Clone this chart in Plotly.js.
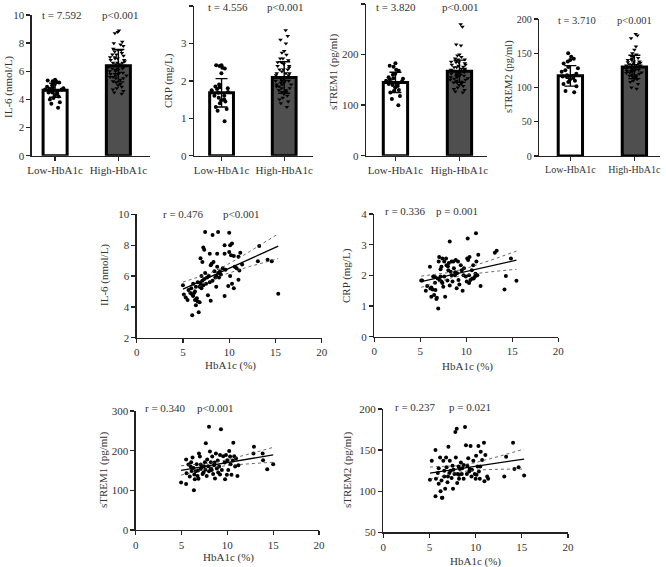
<!DOCTYPE html>
<html>
<head>
<meta charset="utf-8">
<script src="https://cdn.plot.ly/plotly-3.0.1.min.js"></script>
<style>
  html, body { margin: 0; padding: 0; background: #fff; }
  #chart { width: 666px; height: 567px; }
</style>
</head>
<body>
<div id="chart"></div>
<script>
// groups for the bar panels
const groups = ['Low-HbA1c', 'High-HbA1c'];

// bar heights (mean) and SD
const il6Mean = [4.65, 6.4];
const il6Sd = [0.5, 1.15];
const crpMean = [1.68, 2.09];
const crpSd = [0.38, 0.42];
const strem1Mean = [145, 167];
const strem1Sd = [20, 22];
const strem2Mean = [117, 130];
const strem2Sd = [15, 17];

// individual values in each group
const il6Low = [5.4, 5.35, 5.3, 5.3, 5.2, 5.1, 5.0, 4.9, 4.85, 4.8, 4.75, 4.7, 4.7, 4.6, 4.6, 4.5, 4.5, 4.4, 4.3, 4.2, 4.1, 4.0, 3.8, 3.7, 3.4];
const il6High = [8.9, 8.8, 8.7, 8.1, 8.0, 7.9, 7.8, 7.6, 7.5, 7.5, 7.4, 7.3, 7.2, 7.1, 7.0, 7.0, 6.9, 6.8, 6.8, 6.7, 6.6, 6.6, 6.5, 6.5, 6.4, 6.4, 6.3, 6.3, 6.2, 6.2, 6.1, 6.1, 6.0, 6.0, 5.9, 5.9, 5.8, 5.8, 5.7, 5.7, 5.6, 5.6, 5.5, 5.5, 5.4, 5.3, 5.2, 5.1, 5.0, 4.9, 4.8, 4.7, 4.6, 4.5, 4.4, 6.9, 7.2, 6.2, 5.8, 6.6];
const crpLow = [2.42, 2.42, 2.4, 2.35, 2.33, 2.2, 1.85, 1.83, 1.8, 1.78, 1.75, 1.7, 1.68, 1.6, 1.55, 1.5, 1.48, 1.45, 1.4, 1.3, 1.25, 1.2, 0.92, 1.9, 1.6];
const crpHigh = [3.35, 3.2, 3.1, 3.0, 2.8, 2.75, 2.7, 2.6, 2.55, 2.5, 2.5, 2.45, 2.4, 2.35, 2.3, 2.3, 2.25, 2.2, 2.2, 2.15, 2.1, 2.1, 2.05, 2.0, 2.0, 1.95, 1.9, 1.9, 1.85, 1.8, 1.8, 1.75, 1.7, 1.65, 1.6, 1.55, 1.5, 1.45, 1.4, 1.3, 2.1, 2.0, 1.9, 2.2, 2.4, 1.7, 2.6, 1.85, 2.0, 2.15, 1.95, 2.05, 2.3, 1.75, 2.5];
const strem1Low = [183, 178, 176, 170, 168, 162, 155, 152, 150, 148, 147, 145, 143, 140, 138, 135, 130, 128, 125, 118, 112, 100, 160, 153, 142];
const strem1High = [260, 255, 220, 218, 200, 198, 195, 192, 190, 188, 186, 185, 183, 180, 178, 176, 175, 172, 170, 168, 168, 165, 163, 162, 160, 158, 157, 155, 153, 152, 150, 148, 146, 145, 143, 140, 138, 135, 132, 130, 127, 125, 170, 175, 165, 160, 155, 180, 185, 150, 162, 172, 158, 145, 190];
const strem2Low = [150, 145, 142, 140, 138, 125, 123, 120, 118, 117, 115, 114, 112, 110, 108, 105, 102, 95, 93, 130, 135, 116, 128];
const strem2High = [178, 176, 172, 160, 155, 150, 148, 146, 145, 143, 142, 140, 138, 137, 136, 135, 134, 133, 132, 131, 130, 130, 129, 128, 127, 126, 125, 124, 123, 122, 121, 120, 119, 118, 117, 116, 115, 113, 112, 110, 108, 105, 100, 98, 132, 128, 126, 124, 135, 138, 140, 122, 127, 130, 133];

const tLabels = ['t = 7.592', 't = 4.556', 't = 3.820', 't = 3.710'];

// correlation data: HbA1c (%) vs marker
const il6X = [5.0, 5.1, 5.3, 5.5, 5.6, 5.8, 5.9, 6.0, 6.0, 6.1, 6.1, 6.2, 6.3, 6.3, 6.4, 6.4, 6.5, 6.6, 6.6, 6.7, 6.8, 6.8, 6.9, 6.9, 7.0, 7.0, 7.1, 7.1, 7.2, 7.2, 7.3, 7.3, 7.4, 7.4, 7.5, 7.6, 7.7, 7.8, 7.9, 7.9, 8.0, 8.0, 8.1, 8.2, 8.2, 8.3, 8.4, 8.5, 8.6, 8.6, 8.7, 8.7, 8.8, 8.8, 8.9, 9.0, 9.1, 9.3, 9.5, 9.5, 9.5, 9.6, 9.9, 10.0, 10.0, 10.1, 10.1, 10.2, 10.3, 10.3, 10.5, 10.5, 10.6, 10.8, 11.0, 11.0, 11.1, 11.2, 11.4, 13.1, 13.25, 14.15, 14.6, 15.3];
const il6Y = [5.4, 4.8, 4.6, 4.45, 5.1, 4.9, 5.2, 3.45, 4.8, 5.5, 4.7, 4.9, 5.0, 4.45, 4.1, 5.3, 4.55, 4.35, 5.6, 3.65, 4.3, 5.3, 5.5, 7.15, 6.0, 5.2, 6.9, 5.7, 7.85, 5.4, 7.7, 5.8, 8.85, 6.2, 5.5, 5.9, 4.75, 6.0, 7.45, 5.6, 4.4, 6.7, 6.8, 8.65, 5.7, 6.9, 6.3, 5.9, 5.3, 6.0, 6.6, 7.45, 8.85, 6.2, 5.9, 6.3, 6.1, 6.5, 4.7, 7.45, 8.0, 6.4, 5.35, 8.8, 7.55, 6.0, 8.0, 7.35, 8.1, 5.5, 5.2, 7.3, 6.6, 6.5, 5.75, 7.25, 6.35, 7.5, 6.75, 6.95, 7.95, 7.05, 6.95, 4.85];

const crpX = [5.1, 5.2, 5.6, 5.75, 6.05, 6.1, 6.2, 6.35, 6.4, 6.5, 6.6, 6.65, 6.75, 6.8, 6.95, 7.0, 7.05, 7.1, 7.2, 7.3, 7.3, 7.4, 7.5, 7.6, 7.7, 7.8, 7.85, 7.95, 8.05, 8.1, 8.2, 8.2, 8.3, 8.4, 8.5, 8.6, 8.65, 8.75, 8.85, 8.95, 9.0, 9.15, 9.25, 9.4, 9.5, 9.6, 9.75, 9.95, 10.05, 10.15, 10.2, 10.3, 10.35, 10.45, 10.6, 10.65, 10.75, 10.95, 11.05, 11.1, 11.2, 11.3, 11.55, 13.1, 13.3, 14.15, 14.3, 14.85, 15.45, 6.2, 6.9, 7.6, 8.0, 8.8, 9.1, 10.1, 10.3, 11.0, 7.2, 6.6, 8.4, 9.7, 10.8, 7.4];
const crpY = [1.83, 1.83, 1.5, 1.65, 2.28, 1.57, 1.3, 1.54, 1.96, 1.36, 1.76, 1.52, 1.23, 1.27, 0.92, 2.45, 2.6, 1.85, 1.96, 2.28, 1.8, 2.55, 1.63, 1.96, 1.3, 2.55, 2.33, 1.83, 2.17, 2.4, 3.1, 1.67, 2.12, 2.0, 1.8, 2.45, 2.23, 2.0, 2.5, 1.58, 2.07, 1.85, 1.7, 2.33, 2.17, 1.5, 2.23, 1.96, 1.8, 3.2, 2.5, 2.0, 2.6, 1.85, 2.17, 1.9, 2.33, 1.96, 3.37, 2.45, 2.0, 2.67, 1.65, 2.74, 2.8, 1.54, 1.98, 2.55, 1.82, 1.6, 1.9, 2.45, 2.3, 2.1, 2.45, 2.55, 1.75, 2.05, 2.2, 1.95, 2.45, 2.0, 1.9, 1.75];

const strem1X = [4.95, 5.5, 5.5, 5.55, 5.75, 5.9, 6.05, 6.1, 6.2, 6.3, 6.35, 6.45, 6.55, 6.65, 6.75, 6.85, 6.9, 7.0, 7.1, 7.2, 7.3, 7.45, 7.55, 7.65, 7.75, 7.8, 7.9, 8.0, 8.1, 8.2, 8.3, 8.35, 8.45, 8.55, 8.65, 8.75, 8.85, 8.95, 9.1, 9.2, 9.3, 9.4, 9.55, 9.75, 9.85, 9.95, 10.0, 10.1, 10.2, 10.35, 10.45, 10.65, 10.75, 10.85, 10.95, 11.1, 11.2, 12.85, 12.9, 13.85, 13.9, 14.35, 15.0, 6.0, 6.8, 7.4, 8.0, 8.6, 9.2, 9.7, 10.6, 7.1, 8.2, 6.4, 10.3, 7.6, 9.0];
const strem1Y = [120, 116, 178, 143, 165, 135, 171, 149, 183, 156, 100, 128, 148, 166, 136, 129, 193, 185, 154, 158, 141, 161, 171, 219, 136, 178, 161, 260, 198, 171, 151, 185, 141, 163, 130, 193, 155, 175, 160, 189, 254, 151, 186, 128, 189, 139, 176, 151, 199, 166, 139, 220, 186, 160, 180, 136, 163, 193, 210, 193, 176, 153, 166, 160, 150, 145, 148, 170, 140, 170, 175, 165, 155, 140, 185, 152, 145];

const strem2X = [5.05, 5.25, 5.65, 5.7, 5.65, 5.9, 6.0, 6.15, 6.2, 6.3, 6.35, 6.4, 6.5, 6.6, 6.7, 6.8, 6.85, 6.95, 7.05, 7.15, 7.2, 7.3, 7.4, 7.5, 7.55, 7.7, 7.8, 7.85, 7.95, 8.05, 8.15, 8.2, 8.3, 8.4, 8.5, 8.55, 8.7, 8.85, 8.95, 9.05, 9.1, 9.2, 9.35, 9.45, 9.55, 9.75, 9.9, 10.0, 10.05, 10.2, 10.3, 10.35, 10.45, 10.55, 10.7, 10.9, 10.95, 11.05, 11.25, 11.35, 13.1, 13.3, 14.05, 14.2, 14.65, 15.25, 6.0, 7.0, 7.6, 8.2, 8.7, 9.3, 10.1, 8.0, 6.6, 9.6, 10.5];
const strem2Y = [114, 137, 150, 115, 94, 122, 109, 141, 100, 113, 92, 92, 137, 118, 103, 141, 129, 111, 154, 122, 137, 125, 116, 131, 103, 121, 172, 141, 176, 121, 130, 115, 127, 135, 121, 128, 115, 178, 156, 121, 131, 140, 127, 155, 118, 137, 121, 115, 143, 130, 155, 124, 115, 148, 138, 159, 112, 144, 118, 115, 118, 142, 159, 127, 129, 119, 128, 118, 126, 120, 132, 124, 120, 110, 125, 126, 130];

const rLabels = ['r = 0.476', 'r = 0.336', 'r = 0.340', 'r = 0.237'];
const pLabels = ['p<0.001', 'p = 0.001', 'p<0.001', 'p = 0.021'];

const W = 666, H = 567;
const font = 'Liberation Serif, Times New Roman, serif';
const ink = '#333';

function xDom(a, b) { return [a / W, b / W]; }
function yDom(top, bottom) { return [1 - bottom / H, 1 - top / H]; }

function axis(extra, size) {
	return Object.assign({
		showline: true, linecolor: '#222', linewidth: 1.3,
		ticks: 'outside', ticklen: 4, tickwidth: 1.3, tickcolor: '#222',
		showgrid: false, zeroline: false, fixedrange: true,
		tickfont: { family: font, size: size || 11, color: ink }
	}, extra);
}

// least squares fit with 95% confidence band
function fitBand(xs, ys) {
	const n = xs.length;
	const mx = xs.reduce((s, v) => s + v, 0) / n;
	const my = ys.reduce((s, v) => s + v, 0) / n;
	let sxx = 0, sxy = 0;
	for (let i = 0; i < n; i++) { sxx += (xs[i] - mx) ** 2; sxy += (xs[i] - mx) * (ys[i] - my); }
	const b = sxy / sxx, a = my - b * mx;
	let sse = 0;
	for (let i = 0; i < n; i++) sse += (ys[i] - a - b * xs[i]) ** 2;
	const s = Math.sqrt(sse / (n - 2));
	const lo = Math.min(...xs), hi = Math.max(...xs);
	const gx = [], fit = [], up = [], dn = [];
	for (let i = 0; i <= 40; i++) {
		const x = lo + (hi - lo) * i / 40;
		const yh = a + b * x;
		const se = 1.99 * s * Math.sqrt(1 / n + (x - mx) ** 2 / sxx);
		gx.push(x); fit.push(yh); up.push(yh + se); dn.push(yh - se);
	}
	return { gx, fit, up, dn };
}

const traces = [];
const bars = [
	{ mean: il6Mean, sd: il6Sd, low: il6Low, high: il6High },
	{ mean: crpMean, sd: crpSd, low: crpLow, high: crpHigh },
	{ mean: strem1Mean, sd: strem1Sd, low: strem1Low, high: strem1High },
	{ mean: strem2Mean, sd: strem2Sd, low: strem2Low, high: strem2High }
];
bars.forEach((p, i) => {
	const xa = 'x' + (i === 0 ? '' : i + 1), ya = 'y' + (i === 0 ? '' : i + 1);
	traces.push({
		type: 'bar', x: groups, y: p.mean, xaxis: xa, yaxis: ya, width: 0.38,
		marker: { color: ['#fff', '#4f4f4f'], line: { color: '#000', width: 3 } },
		error_y: { type: 'data', array: p.sd, color: '#000', thickness: 1.4, width: 6 },
		showlegend: false, hoverinfo: 'y'
	});
	[[p.low, groups[0], 'circle'], [p.high, groups[1], 'triangle-down']].forEach(([vals, g, sym]) => {
		traces.push({
			type: 'box', x: vals.map(() => g), y: vals, xaxis: xa, yaxis: ya,
			boxpoints: 'all', jitter: 0.9, pointpos: 0, width: 0.36, whiskerwidth: 0,
			fillcolor: 'rgba(0,0,0,0)', line: { width: 0, color: 'rgba(0,0,0,0)' },
			marker: { color: '#000', size: 4, symbol: sym },
			showlegend: false, hoverinfo: 'y'
		});
	});
});

const corr = [[il6X, il6Y], [crpX, crpY], [strem1X, strem1Y], [strem2X, strem2Y]];
corr.forEach(([xs, ys], i) => {
	const k = i + 5;
	const xa = 'x' + k, ya = 'y' + k;
	const f = fitBand(xs, ys);
	traces.push({ type: 'scatter', mode: 'markers', x: xs, y: ys, xaxis: xa, yaxis: ya,
		marker: { color: '#000', size: 4 }, showlegend: false });
	traces.push({ type: 'scatter', mode: 'lines', x: f.gx, y: f.fit, xaxis: xa, yaxis: ya,
		line: { color: '#000', width: 1.3 }, showlegend: false, hoverinfo: 'skip' });
	[f.up, f.dn].forEach(band => traces.push({ type: 'scatter', mode: 'lines', x: f.gx, y: band,
		xaxis: xa, yaxis: ya, line: { color: '#444', width: 0.8, dash: 'dot' },
		showlegend: false, hoverinfo: 'skip' }));
});

const layout = {
	width: W, height: H,
	margin: { l: 0, r: 0, t: 0, b: 0 },
	paper_bgcolor: '#fff', plot_bgcolor: '#fff',
	font: { family: font, color: ink, size: 11 },
	barmode: 'overlay', boxmode: 'overlay',
	xaxis: axis({ domain: xDom(31.7, 150), anchor: 'y', type: 'category', range: [-0.37, 1.5] }),
	yaxis: axis({ domain: yDom(15, 155.7), anchor: 'x', range: [0, 10], dtick: 2 }),
	xaxis2: axis({ domain: xDom(194, 313), anchor: 'y2', type: 'category', range: [-0.44, 1.46] }),
	yaxis2: axis({ domain: yDom(6, 155.7), anchor: 'x2', range: [0, 4], dtick: 1 }),
	xaxis3: axis({ domain: xDom(366, 487), anchor: 'y3', type: 'category', range: [-0.46, 1.43] }),
	yaxis3: axis({ domain: yDom(4, 155.7), anchor: 'x3', range: [0, 300], dtick: 100 }),
	xaxis4: axis({ domain: xDom(539, 660), anchor: 'y4', type: 'category', range: [-0.49, 1.4] }, 10),
	yaxis4: axis({ domain: yDom(19, 156), anchor: 'x4', range: [0, 200], dtick: 50 }, 10),
	xaxis5: axis({ domain: xDom(136.7, 321.7), anchor: 'y5', range: [0, 20], dtick: 5 }),
	yaxis5: axis({ domain: yDom(214.3, 337.7), anchor: 'x5', range: [2, 10], dtick: 2 }),
	xaxis6: axis({ domain: xDom(374.3, 558.3), anchor: 'y6', range: [0, 20], dtick: 5 }),
	yaxis6: axis({ domain: yDom(214, 336.7), anchor: 'x6', range: [0, 4], dtick: 1 }),
	xaxis7: axis({ domain: xDom(135.7, 319), anchor: 'y7', range: [0, 20], dtick: 5 }),
	yaxis7: axis({ domain: yDom(411, 530), anchor: 'x7', range: [0, 300], dtick: 100 }),
	xaxis8: axis({ domain: xDom(383.3, 568), anchor: 'y8', range: [0, 20], dtick: 5 }),
	yaxis8: axis({ domain: yDom(409, 532.3), anchor: 'x8', range: [50, 200], dtick: 50 }),
	annotations: []
};

function note(text, px, py, size, angle) {
	layout.annotations.push({ xref: 'paper', yref: 'paper', x: px / W, y: 1 - py / H,
		text: text, showarrow: false, xanchor: 'center', yanchor: 'middle',
		textangle: angle || 0, font: { size: size || 11 } });
}

// t / p labels above the bars
const tPos = [[61.5, 119.5, 15], [228, 284.5, 7], [396, 459.5, 7], [577, 634.5, 21]];
tLabels.forEach((t, i) => {
	const sz = i === 3 ? 10.5 : 11;
	note(t, tPos[i][0], tPos[i][2], sz);
	note('p<0.001', tPos[i][1], tPos[i][2], sz);
});

// r / p labels in the scatter panels
const rPos = [[183, 241, 214], [405, 456.7, 211], [165, 214.5, 408], [415, 470, 407]];
rLabels.forEach((r, i) => {
	note(r, rPos[i][0], rPos[i][2]);
	note(pLabels[i], rPos[i][1], rPos[i][2]);
});

// axis titles
const yTitles = [
	['IL-6 (nmol/L)', 8, 87], ['CRP (mg/L)', 169, 81], ['sTREM1 (pg/ml)', 333, 72], ['sTREM2 (pg/ml)', 509, 77],
	['IL-6 (nmol/L)', 104, 275], ['CRP (mg/L)', 346, 275], ['sTREM1 (pg/ml)', 103, 470], ['sTREM2 (pg/ml)', 347, 470]
];
yTitles.forEach(([t, px, py], i) => note(t, px, py, i === 3 ? 10.5 : 11, -90));
const xTitles = [[230, 365], [467, 366], [228, 557], [475, 561]];
xTitles.forEach(([px, py]) => note('HbA1c (%)', px, py));

Plotly.newPlot('chart', traces, layout, { staticPlot: true, displayModeBar: false });
</script>
</body>
</html>
